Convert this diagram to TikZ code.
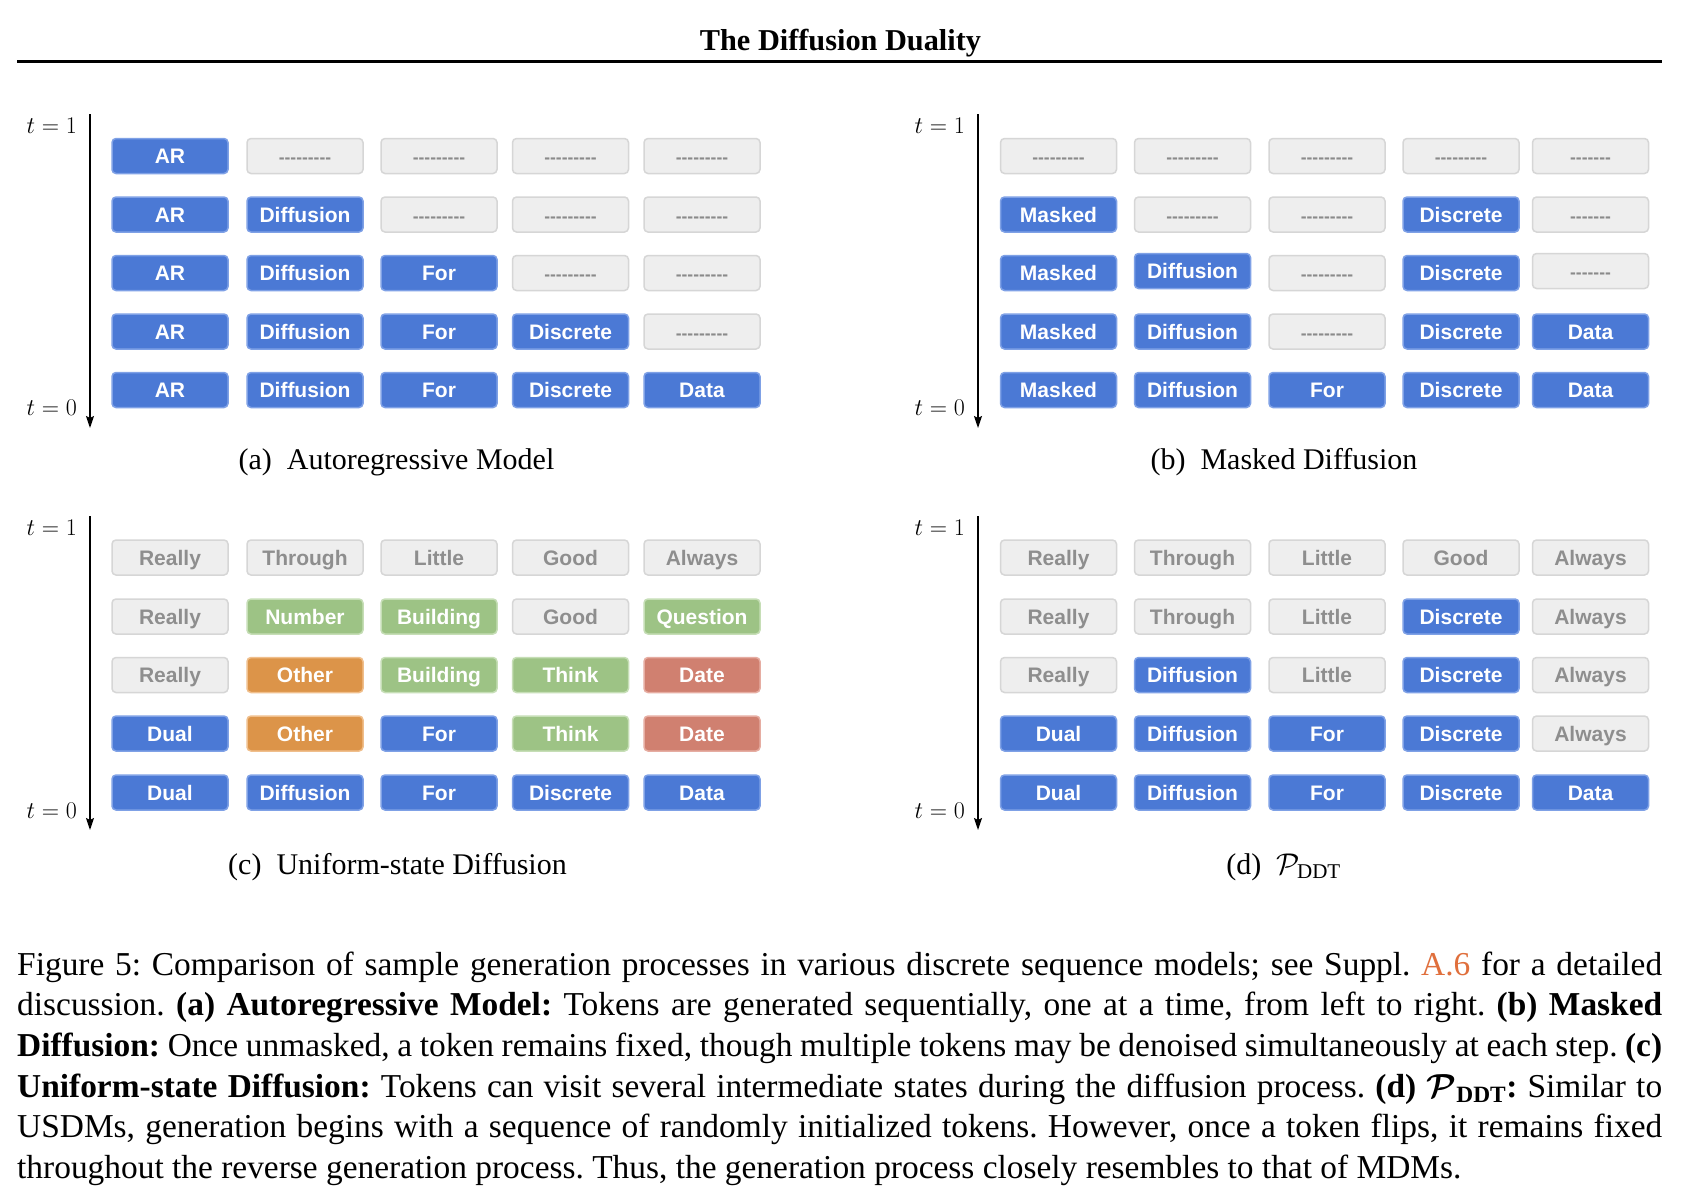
\RequirePackage{fix-cm}
\documentclass[tikz,border=0pt]{standalone}
\usepackage{amsmath}
\usepackage[no-math]{fontspec}
\setmainfont{Liberation Serif}
\newfontfamily\boxfont[Ligatures=TeXOff]{Liberation Sans}
\usetikzlibrary{arrows.meta}
\definecolor{tokblue}{HTML}{4B79D5}
\definecolor{tokblueb}{HTML}{7FA1E6}
\definecolor{tokgray}{HTML}{EEEEEE}
\definecolor{tokgrayb}{HTML}{D6D6D6}
\definecolor{tokgrayt}{HTML}{8E8E8E}
\definecolor{tokdash}{HTML}{8A8A8A}
\definecolor{tokgreen}{HTML}{9DC385}
\definecolor{tokgreenb}{HTML}{C6DEB6}
\definecolor{tokorange}{HTML}{DC9449}
\definecolor{tokorangeb}{HTML}{F0BF8C}
\definecolor{tokred}{HTML}{D08070}
\definecolor{tokredb}{HTML}{E6ADA2}
\definecolor{linkcol}{HTML}{E06F3C}
\newcommand\tk[5]{\node[tokbase,#1] (#2) at (#3,#4) {#5};}
\newcommand\dshn{---------}
\newcommand\dshs{-------}
\frenchspacing
\begin{document}
\begin{tikzpicture}[x=1pt,y=-1pt,
  tokbase/.style={rounded corners=4pt, minimum width=116pt, minimum height=35pt,
    line width=1.5pt, inner sep=0pt, text height=15pt, text depth=0pt,
    font=\boxfont\bfseries\fontsize{21}{21}\selectfont},
  blu/.style={fill=tokblue, draw=tokblueb, text=white},
  gry/.style={fill=tokgray, draw=tokgrayb, text=tokgrayt},
  grn/.style={fill=tokgreen, draw=tokgreenb, text=white},
  org/.style={fill=tokorange, draw=tokorangeb, text=white},
  rdd/.style={fill=tokred, draw=tokredb, text=white},
  ph/.style={fill=tokgray, draw=tokgrayb, text=tokdash,
    font=\boxfont\bfseries\fontsize{17.5}{18}\selectfont},
  tlab/.style={anchor=base east, inner sep=0pt, font=\fontsize{24}{28}\selectfont},
  subcap/.style={anchor=base, inner sep=0pt, font=\fontsize{30}{36}\selectfont},
  axisarrow/.style={line width=1.6pt, -{Stealth[length=12pt,width=8pt,inset=2pt]}},
  capline/.style={anchor=base west, inner sep=0pt, font=\fontsize{33.4}{40.7}\selectfont}
]
\useasboundingbox (0,0) rectangle (1690,1202);
\fill[white] (0,0) rectangle (1690,1202);

% header
\node[anchor=base, inner sep=0pt, font=\bfseries\fontsize{30.3}{36}\selectfont] (title) at (840.5,50) {The Diffusion Duality};
\coordinate (ruleL) at (17,61.5);
\coordinate (ruleR) at (1662,61.5);
\draw[line width=3pt] (ruleL) -- (ruleR);

\def\lxA{170}\def\lxB{305}\def\lxC{439}\def\lxD{570.5}\def\lxE{702}
\def\rxA{1058.5}\def\rxB{1192.5}\def\rxC{1327}\def\rxD{1461}\def\rxE{1590.5}
\def\tyA{156}\def\tyB{214.5}\def\tyC{273}\def\tyD{331.5}\def\tyE{390}
\def\byA{557.5}\def\byB{616.5}\def\byC{675}\def\byD{733.5}\def\byE{792.5}

% axes
\coordinate (aTop) at (90,114); \coordinate (aBot) at (90,428);
\coordinate (bTop) at (978,114); \coordinate (bBot) at (978,428);
\coordinate (cTop) at (90,516); \coordinate (cBot) at (90,830);
\coordinate (dTop) at (978,516); \coordinate (dBot) at (978,830);
\draw[axisarrow] (aTop) -- (aBot);
\draw[axisarrow] (bTop) -- (bBot);
\draw[axisarrow] (cTop) -- (cBot);
\draw[axisarrow] (dTop) -- (dBot);
\node[tlab] (at1) at (77,133) {$t=1$};
\node[tlab] (at0) at (77,415) {$t=0$};
\node[tlab] (bt1) at (965,133) {$t=1$};
\node[tlab] (bt0) at (965,415) {$t=0$};
\node[tlab] (ct1) at (77,535) {$t=1$};
\node[tlab] (ct0) at (77,818) {$t=0$};
\node[tlab] (dt1) at (965,535) {$t=1$};
\node[tlab] (dt0) at (965,818) {$t=0$};

% (a) autoregressive
\tk{blu}{a11}{\lxA}{\tyA}{AR}
\tk{ph}{a12}{\lxB}{\tyA}{\dshn}
\tk{ph}{a13}{\lxC}{\tyA}{\dshn}
\tk{ph}{a14}{\lxD}{\tyA}{\dshn}
\tk{ph}{a15}{\lxE}{\tyA}{\dshn}
\tk{blu}{a21}{\lxA}{\tyB}{AR}
\tk{blu}{a22}{\lxB}{\tyB}{Diffusion}
\tk{ph}{a23}{\lxC}{\tyB}{\dshn}
\tk{ph}{a24}{\lxD}{\tyB}{\dshn}
\tk{ph}{a25}{\lxE}{\tyB}{\dshn}
\tk{blu}{a31}{\lxA}{\tyC}{AR}
\tk{blu}{a32}{\lxB}{\tyC}{Diffusion}
\tk{blu}{a33}{\lxC}{\tyC}{For}
\tk{ph}{a34}{\lxD}{\tyC}{\dshn}
\tk{ph}{a35}{\lxE}{\tyC}{\dshn}
\tk{blu}{a41}{\lxA}{\tyD}{AR}
\tk{blu}{a42}{\lxB}{\tyD}{Diffusion}
\tk{blu}{a43}{\lxC}{\tyD}{For}
\tk{blu}{a44}{\lxD}{\tyD}{Discrete}
\tk{ph}{a45}{\lxE}{\tyD}{\dshn}
\tk{blu}{a51}{\lxA}{\tyE}{AR}
\tk{blu}{a52}{\lxB}{\tyE}{Diffusion}
\tk{blu}{a53}{\lxC}{\tyE}{For}
\tk{blu}{a54}{\lxD}{\tyE}{Discrete}
\tk{blu}{a55}{\lxE}{\tyE}{Data}
\node[subcap] (capa) at (396.5,469.5) {(a)\enspace Autoregressive Model};

% (b) masked diffusion
\tk{ph}{b11}{\rxA}{\tyA}{\dshn}
\tk{ph}{b12}{\rxB}{\tyA}{\dshn}
\tk{ph}{b13}{\rxC}{\tyA}{\dshn}
\tk{ph}{b14}{\rxD}{\tyA}{\dshn}
\tk{ph}{b15}{\rxE}{\tyA}{\dshs}
\tk{blu}{b21}{\rxA}{\tyB}{Masked}
\tk{ph}{b22}{\rxB}{\tyB}{\dshn}
\tk{ph}{b23}{\rxC}{\tyB}{\dshn}
\tk{blu}{b24}{\rxD}{\tyB}{Discrete}
\tk{ph}{b25}{\rxE}{\tyB}{\dshs}
\tk{blu}{b31}{\rxA}{\tyC}{Masked}
\tk{blu}{b32}{\rxB}{\tyC-2}{Diffusion}
\tk{ph}{b33}{\rxC}{\tyC}{\dshn}
\tk{blu}{b34}{\rxD}{\tyC}{Discrete}
\tk{ph}{b35}{\rxE}{\tyC-2}{\dshs}
\tk{blu}{b41}{\rxA}{\tyD}{Masked}
\tk{blu}{b42}{\rxB}{\tyD}{Diffusion}
\tk{ph}{b43}{\rxC}{\tyD}{\dshn}
\tk{blu}{b44}{\rxD}{\tyD}{Discrete}
\tk{blu}{b45}{\rxE}{\tyD}{Data}
\tk{blu}{b51}{\rxA}{\tyE}{Masked}
\tk{blu}{b52}{\rxB}{\tyE}{Diffusion}
\tk{blu}{b53}{\rxC}{\tyE}{For}
\tk{blu}{b54}{\rxD}{\tyE}{Discrete}
\tk{blu}{b55}{\rxE}{\tyE}{Data}
\node[subcap] (capb) at (1284,469.5) {(b)\enspace Masked Diffusion};

% (c) uniform-state diffusion
\tk{gry}{c11}{\lxA}{\byA}{Really}
\tk{gry}{c12}{\lxB}{\byA}{Through}
\tk{gry}{c13}{\lxC}{\byA}{Little}
\tk{gry}{c14}{\lxD}{\byA}{Good}
\tk{gry}{c15}{\lxE}{\byA}{Always}
\tk{gry}{c21}{\lxA}{\byB}{Really}
\tk{grn}{c22}{\lxB}{\byB}{Number}
\tk{grn}{c23}{\lxC}{\byB}{Building}
\tk{gry}{c24}{\lxD}{\byB}{Good}
\tk{grn}{c25}{\lxE}{\byB}{Question}
\tk{gry}{c31}{\lxA}{\byC}{Really}
\tk{org}{c32}{\lxB}{\byC}{Other}
\tk{grn}{c33}{\lxC}{\byC}{Building}
\tk{grn}{c34}{\lxD}{\byC}{Think}
\tk{rdd}{c35}{\lxE}{\byC}{Date}
\tk{blu}{c41}{\lxA}{\byD}{Dual}
\tk{org}{c42}{\lxB}{\byD}{Other}
\tk{blu}{c43}{\lxC}{\byD}{For}
\tk{grn}{c44}{\lxD}{\byD}{Think}
\tk{rdd}{c45}{\lxE}{\byD}{Date}
\tk{blu}{c51}{\lxA}{\byE}{Dual}
\tk{blu}{c52}{\lxB}{\byE}{Diffusion}
\tk{blu}{c53}{\lxC}{\byE}{For}
\tk{blu}{c54}{\lxD}{\byE}{Discrete}
\tk{blu}{c55}{\lxE}{\byE}{Data}
\node[subcap] (capc) at (397.5,874) {(c)\enspace Uniform-state Diffusion};

% (d) P_DDT
\tk{gry}{d11}{\rxA}{\byA}{Really}
\tk{gry}{d12}{\rxB}{\byA}{Through}
\tk{gry}{d13}{\rxC}{\byA}{Little}
\tk{gry}{d14}{\rxD}{\byA}{Good}
\tk{gry}{d15}{\rxE}{\byA}{Always}
\tk{gry}{d21}{\rxA}{\byB}{Really}
\tk{gry}{d22}{\rxB}{\byB}{Through}
\tk{gry}{d23}{\rxC}{\byB}{Little}
\tk{blu}{d24}{\rxD}{\byB}{Discrete}
\tk{gry}{d25}{\rxE}{\byB}{Always}
\tk{gry}{d31}{\rxA}{\byC}{Really}
\tk{blu}{d32}{\rxB}{\byC}{Diffusion}
\tk{gry}{d33}{\rxC}{\byC}{Little}
\tk{blu}{d34}{\rxD}{\byC}{Discrete}
\tk{gry}{d35}{\rxE}{\byC}{Always}
\tk{blu}{d41}{\rxA}{\byD}{Dual}
\tk{blu}{d42}{\rxB}{\byD}{Diffusion}
\tk{blu}{d43}{\rxC}{\byD}{For}
\tk{blu}{d44}{\rxD}{\byD}{Discrete}
\tk{gry}{d45}{\rxE}{\byD}{Always}
\tk{blu}{d51}{\rxA}{\byE}{Dual}
\tk{blu}{d52}{\rxB}{\byE}{Diffusion}
\tk{blu}{d53}{\rxC}{\byE}{For}
\tk{blu}{d54}{\rxD}{\byE}{Discrete}
\tk{blu}{d55}{\rxE}{\byE}{Data}
\node[subcap] (capd) at (1283.5,874) {(d)\enspace$\mathcal{P}_{\text{DDT}}$};

% figure caption
\node[capline] (cl1) at (17,975) {\makebox[1645pt][s]{Figure 5: Comparison of sample generation processes in various discrete sequence models; see Suppl. \textcolor{linkcol}{A.6} for a detailed}};
\node[capline] (cl2) at (17,1015.7) {\makebox[1645pt][s]{discussion. \textbf{(a) Autoregressive Model:} Tokens are generated sequentially, one at a time, from left to right. \textbf{(b) Masked}}};
\node[capline] (cl3) at (17,1056.4) {\makebox[1645pt][s]{\textbf{Diffusion:} Once unmasked, a token remains fixed, though multiple tokens may be denoised simultaneously at each step. \textbf{(c)}}};
\node[capline] (cl4) at (17,1097.1) {\makebox[1645pt][s]{\textbf{Uniform-state Diffusion:} Tokens can visit several intermediate states during the diffusion process. \textbf{(d) $\boldsymbol{\mathcal{P}}_{\text{DDT}}$:} Similar to}};
\node[capline] (cl5) at (17,1137.8) {\makebox[1645pt][s]{USDMs, generation begins with a sequence of randomly initialized tokens. However, once a token flips, it remains fixed}};
\node[capline] (cl6) at (17,1178.5) {throughout the reverse generation process. Thus, the generation process closely resembles to that of MDMs.};
\end{tikzpicture}
\end{document}
